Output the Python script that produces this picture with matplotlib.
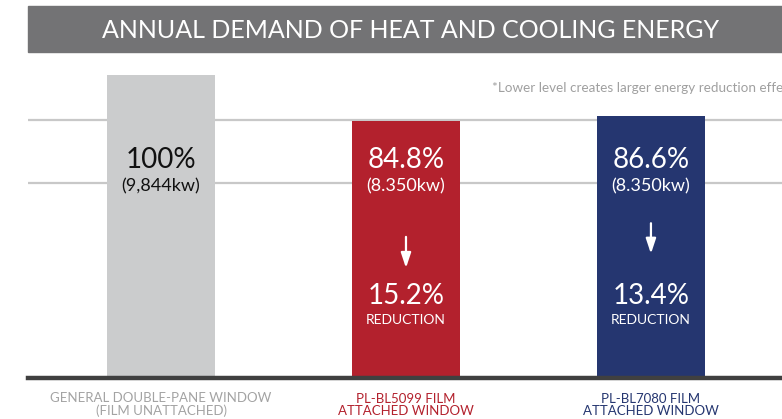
import matplotlib.pyplot as plt
from matplotlib.patches import Rectangle

# chart data
categories = ["GENERAL DOUBLE-PANE WINDOW\n(FILM UNATTACHED)",
              "PL-BL5099 FILM\nATTACHED WINDOW",
              "PL-BL7080 FILM\nATTACHED WINDOW"]
percent = [100, 84.8, 86.6]
energy_labels = ["(9,844kw)", "(8.350kw)", "(8.350kw)"]
reduction = [None, 15.2, 13.4]

bar_colors = ["#cbcccd", "#b3212d", "#253670"]
text_colors = ["#111111", "white", "white"]
cat_colors = ["#a3a3a3", "#b3212d", "#253670"]

plt.rcParams['font.family'] = ['Lato', 'DejaVu Sans']

fig = plt.figure(figsize=(7.82, 4.19), dpi=100)

# title banner
fig.patches.append(Rectangle((28 / 782, 1 - 52 / 419), 1, 46 / 419,
                             transform=fig.transFigure, color="#737375", zorder=0))
fig.text(411 / 782, 1 - 30 / 419, "ANNUAL DEMAND OF HEAT AND COOLING ENERGY",
         color="white", fontsize=18, ha="center", va="center")
# footnote runs off the right edge, as in the reference
fig.text(492 / 782, 1 - 88 / 419, "*Lower level creates larger energy reduction effect.",
         color="#a0a0a0", fontsize=9.7, ha="left", va="center")

ax = fig.add_axes([28 / 782, 41 / 419, 754 / 782, 326 / 419])
x = list(range(len(percent)))
ax.bar(x, percent, width=0.441, color=bar_colors, zorder=2)
ax.set_xlim(-0.543, 2.535)
ax.set_ylim(0, 107.6)

# light horizontal guide lines
ax.set_yticks([64.4, 85.1])
ax.yaxis.grid(True, color="#c8c8c8", linewidth=1.6)
ax.set_axisbelow(True)
ax.tick_params(left=False, labelleft=False, bottom=False, labelbottom=False)
for s in ["top", "right", "left"]:
    ax.spines[s].set_visible(False)
ax.spines["bottom"].set_color("#404040")
ax.spines["bottom"].set_linewidth(3.2)

for i in x:
    ax.text(i, 72, f"{percent[i]:g}%", color=text_colors[i], fontsize=20,
            ha="center", va="center", zorder=3)
    ax.text(i, 63.2, energy_labels[i], color=text_colors[i], fontsize=13,
            ha="center", va="center", zorder=3)
    if reduction[i] is not None:
        y0, y1 = (47.5, 35.4) if i == 1 else (52, 40.1)
        ax.annotate("", xy=(i, y1), xytext=(i, y0),
                    arrowprops=dict(arrowstyle="-|>,head_length=0.9,head_width=0.3",
                                    color="white", lw=1.6), zorder=3)
        ax.text(i, 27, f"{reduction[i]:g}%", color="white", fontsize=20,
                ha="center", va="center", zorder=3)
        ax.text(i, 19.3, "REDUCTION", color="white", fontsize=10,
                ha="center", va="center", zorder=3)
    ax.text(i, -8.8, categories[i], color=cat_colors[i], fontsize=9.5,
            ha="center", va="center", linespacing=1.0, clip_on=False)

fig.savefig("out.png", dpi=100)
